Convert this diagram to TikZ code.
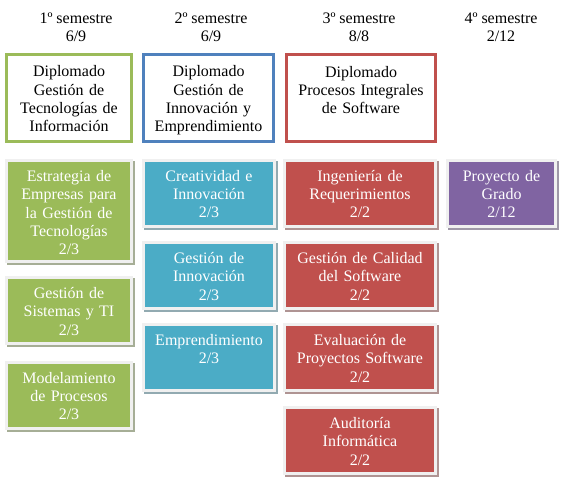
\documentclass[tikz,border=0pt]{standalone}
\usepackage{fontspec}
\setmainfont{Liberation Serif}
\usetikzlibrary{shadows}
\definecolor{cgreen}{HTML}{9BBB59}
\definecolor{cblue}{HTML}{4BACC6}
\definecolor{cred}{HTML}{C0504D}
\definecolor{cpurple}{HTML}{8064A2}
\definecolor{dblue}{HTML}{4F81BD}
\definecolor{boxedge}{HTML}{F0F0F0}
\begin{document}
\begin{tikzpicture}[x=1pt,y=-1pt,
  every node/.style={font=\fontsize{16}{18.3}\selectfont},
  hdr/.style={anchor=north, inner sep=0pt, align=center, text=black},
  dbox/.style={rectangle, draw=#1, line width=3pt, fill=white, inner sep=0pt, outer sep=0pt, minimum height=87pt},
  dtext/.style={anchor=north, inner sep=0pt, align=center, text=black},
  cbox/.style={rectangle, draw=boxedge, line width=3pt, fill=#1, inner sep=0pt, outer sep=0pt,
    general shadow={fill=#1!50!black!50, draw=#1!50!black!50, line width=3pt, shadow xshift=2pt, shadow yshift=-2pt}},
  ctext/.style={anchor=north, inner sep=0pt, align=center, text=white}
]
\useasboundingbox (0,0) rectangle (561,489);

% headers
\node[hdr] (h1) at (76,10.5) {\strut 1º semestre\\6/9};
\node[hdr] (h2) at (211,10.5) {\strut 2º semestre\\6/9};
\node[hdr] (h3) at (359,10.5) {\strut 3º semestre\\8/8};
\node[hdr] (h4) at (501,10.5) {\strut 4º semestre\\2/12};

% diplomado boxes
\node[dbox=cgreen, minimum width=125pt] (d1) at (69,98) {};
\node[dtext, text width=121pt] (dt1) at ([yshift=-9.3pt]d1.north) {\strut Diplomado\\Gestión de\\Tecnologías de\\Información};
\node[dbox=dblue, minimum width=130pt] (d2) at (208.5,98) {};
\node[dtext, text width=126pt] (dt2) at ([yshift=-9.3pt]d2.north) {\strut Diplomado\\Gestión de\\Innovación y\\Emprendimiento};
\node[dbox=cred, minimum width=149pt] (d3) at (361,98.5) {};
\node[dtext, text width=145pt] (dt3) at ([yshift=-9.3pt]d3.north) {\strut Diplomado\\Procesos Integrales\\de Software};

% column 1
\node[cbox=cgreen, minimum width=125pt, minimum height=101pt] (a1) at (69,211) {};
\node[ctext, text width=121pt] (ta1) at ([yshift=-8pt]a1.north) {\strut Estrategia de\\Empresas para\\la Gestión de\\Tecnologías\\2/3};
\node[cbox=cgreen, minimum width=125pt, minimum height=66pt] (a2) at (69,310.5) {};
\node[ctext, text width=121pt] (ta2) at ([yshift=-8pt]a2.north) {\strut Gestión de\\Sistemas y TI\\2/3};
\node[cbox=cgreen, minimum width=125pt, minimum height=66pt] (a3) at (69,395) {};
\node[ctext, text width=121pt] (ta3) at ([yshift=-8pt]a3.north) {\strut Modelamiento\\de Procesos\\2/3};

% column 2
\node[cbox=cblue, minimum width=131pt, minimum height=66pt] (b1) at (209,193) {};
\node[ctext, text width=127pt] (tb1) at ([yshift=-8pt]b1.north) {\strut Creatividad e\\Innovación\\2/3};
\node[cbox=cblue, minimum width=131pt, minimum height=66pt] (b2) at (209,275.5) {};
\node[ctext, text width=127pt] (tb2) at ([yshift=-8pt]b2.north) {\strut Gestión de\\Innovación\\2/3};
\node[cbox=cblue, minimum width=131pt, minimum height=66pt] (b3) at (209,357.5) {};
\node[ctext, text width=127pt] (tb3) at ([yshift=-8pt]b3.north) {\strut Emprendimiento\\2/3};

% column 3
\node[cbox=cred, minimum width=151pt, minimum height=66pt] (c1) at (360,193) {};
\node[ctext, text width=147pt] (tc1) at ([yshift=-8pt]c1.north) {\strut Ingeniería de\\Requerimientos\\2/2};
\node[cbox=cred, minimum width=151pt, minimum height=66pt] (c2) at (360,275.5) {};
\node[ctext, text width=147pt] (tc2) at ([yshift=-8pt]c2.north) {\strut Gestión de Calidad\\del Software\\2/2};
\node[cbox=cred, minimum width=151pt, minimum height=66pt] (c3) at (360,357.5) {};
\node[ctext, text width=147pt] (tc3) at ([yshift=-8pt]c3.north) {\strut Evaluación de\\Proyectos Software\\2/2};
\node[cbox=cred, minimum width=151pt, minimum height=66pt] (c4) at (360,440.5) {};
\node[ctext, text width=147pt] (tc4) at ([yshift=-8pt]c4.north) {\strut Auditoría\\Informática\\2/2};

% column 4
\node[cbox=cpurple, minimum width=108pt, minimum height=66pt] (e1) at (501.5,193) {};
\node[ctext, text width=104pt] (te1) at ([yshift=-8pt]e1.north) {\strut Proyecto de\\Grado\\2/12};
\end{tikzpicture}
\end{document}
